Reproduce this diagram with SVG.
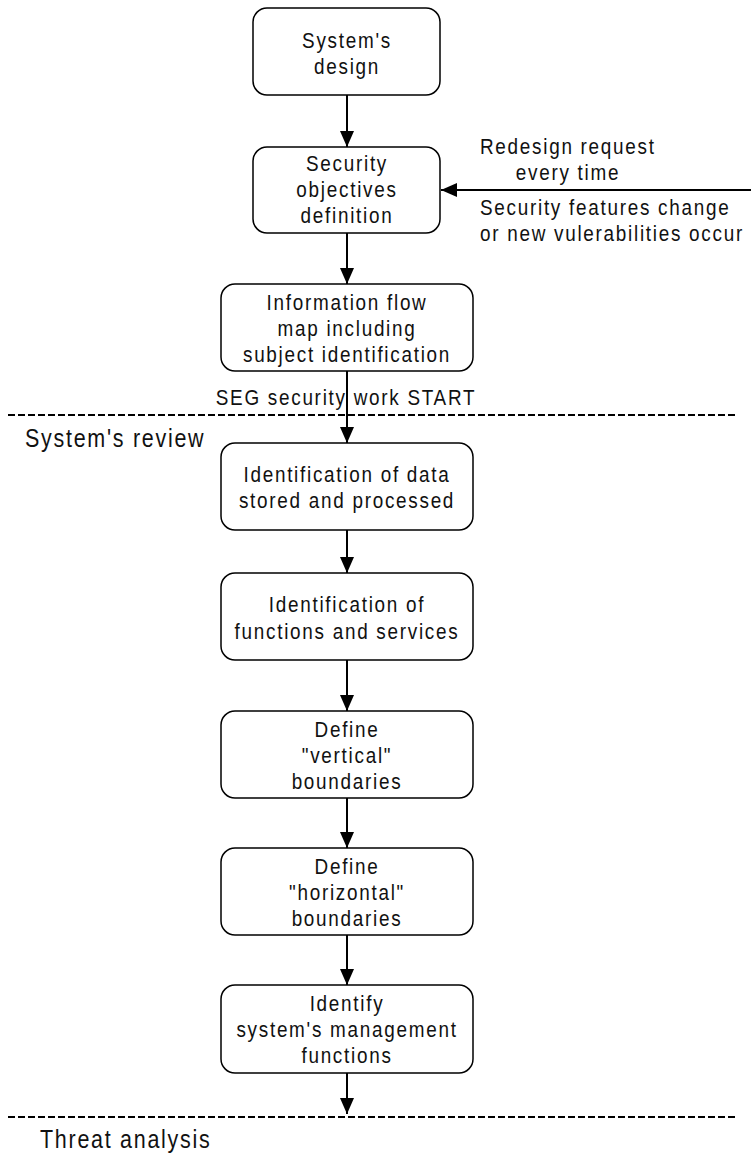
<svg xmlns="http://www.w3.org/2000/svg" width="751" height="1153" viewBox="0 0 751 1153">
<style>
.box{fill:#fff;stroke:#000;stroke-width:1.5}
.t{font-family:"Liberation Sans",Arial,sans-serif;font-size:22px;letter-spacing:2px;fill:#111}
.c{text-anchor:middle}
.big{font-family:"Liberation Sans",Arial,sans-serif;font-size:25px;letter-spacing:2px;fill:#111}
.ln{stroke:#000;stroke-width:2;fill:none}
.dash{stroke:#000;stroke-width:2;stroke-dasharray:7 3;fill:none}
</style>
<defs>
<marker id="ah" viewBox="0 0 16 14" refX="16" refY="7" markerWidth="16" markerHeight="14" markerUnits="userSpaceOnUse" orient="auto"><path d="M0,0 L16,7 L0,14 z" fill="#000"/></marker>
</defs>
<g id="separators">
<line class="dash" x1="8" y1="415" x2="738" y2="415"/>
<line class="dash" x1="8" y1="1117" x2="738" y2="1117"/>
<text class="big" transform="translate(25,447) scale(0.86,1)">System's review</text>
<text class="big" transform="translate(40,1148) scale(0.86,1)">Threat analysis</text>
<text class="t c" transform="translate(346,405) scale(0.86,1)" letter-spacing="2.6">SEG security work START</text>
</g>
<g id="connectors">
<line class="ln" x1="347" y1="95" x2="347" y2="147" marker-end="url(#ah)"/>
<line class="ln" x1="347" y1="233" x2="347" y2="284" marker-end="url(#ah)"/>
<line class="ln" x1="347" y1="371" x2="347" y2="443" marker-end="url(#ah)"/>
<line class="ln" x1="347" y1="530" x2="347" y2="573" marker-end="url(#ah)"/>
<line class="ln" x1="347" y1="660" x2="347" y2="711" marker-end="url(#ah)"/>
<line class="ln" x1="347" y1="798" x2="347" y2="848" marker-end="url(#ah)"/>
<line class="ln" x1="347" y1="935" x2="347" y2="985" marker-end="url(#ah)"/>
<line class="ln" x1="347" y1="1073" x2="347" y2="1114" marker-end="url(#ah)"/>
<line class="ln" x1="751" y1="190" x2="441" y2="190" marker-end="url(#ah)"/>
<text class="t" transform="translate(480,154) scale(0.86,1)">Redesign request</text>
<text class="t c" transform="translate(568,180) scale(0.86,1)">every time</text>
<text class="t" transform="translate(480,215) scale(0.86,1)">Security features change</text>
<text class="t" transform="translate(480,241) scale(0.86,1)">or new vulerabilities occur</text>
</g>
<g id="n1">
<rect class="box" x="253" y="8" width="187" height="87" rx="14"/>
<text class="t c" transform="translate(347,48) scale(0.86,1)">System's</text>
<text class="t c" transform="translate(347,74) scale(0.86,1)">design</text>
</g>
<g id="n2">
<rect class="box" x="253" y="147" width="187" height="86" rx="14"/>
<text class="t c" transform="translate(347,171) scale(0.86,1)">Security</text>
<text class="t c" transform="translate(347,197) scale(0.86,1)">objectives</text>
<text class="t c" transform="translate(347,223) scale(0.86,1)">definition</text>
</g>
<g id="n3">
<rect class="box" x="221" y="284" width="252" height="87" rx="14"/>
<text class="t c" transform="translate(347,310) scale(0.86,1)">Information flow</text>
<text class="t c" transform="translate(347,336) scale(0.86,1)">map including</text>
<text class="t c" transform="translate(347,362) scale(0.86,1)">subject identification</text>
</g>
<g id="n4">
<rect class="box" x="221" y="443" width="252" height="87" rx="14"/>
<text class="t c" transform="translate(347,482) scale(0.86,1)">Identification of data</text>
<text class="t c" transform="translate(347,508) scale(0.86,1)">stored and processed</text>
</g>
<g id="n5">
<rect class="box" x="221" y="573" width="252" height="87" rx="14"/>
<text class="t c" transform="translate(347,612) scale(0.86,1)">Identification of</text>
<text class="t c" transform="translate(347,639) scale(0.86,1)">functions and services</text>
</g>
<g id="n6">
<rect class="box" x="221" y="711" width="252" height="87" rx="14"/>
<text class="t c" transform="translate(347,737) scale(0.86,1)">Define</text>
<text class="t c" transform="translate(347,763) scale(0.86,1)">"vertical"</text>
<text class="t c" transform="translate(347,789) scale(0.86,1)">boundaries</text>
</g>
<g id="n7">
<rect class="box" x="221" y="848" width="252" height="87" rx="14"/>
<text class="t c" transform="translate(347,874) scale(0.86,1)">Define</text>
<text class="t c" transform="translate(347,900) scale(0.86,1)">"horizontal"</text>
<text class="t c" transform="translate(347,926) scale(0.86,1)">boundaries</text>
</g>
<g id="n8">
<rect class="box" x="221" y="985" width="252" height="88" rx="14"/>
<text class="t c" transform="translate(347,1011) scale(0.86,1)">Identify</text>
<text class="t c" transform="translate(347,1037) scale(0.86,1)">system's management</text>
<text class="t c" transform="translate(347,1063) scale(0.86,1)">functions</text>
</g>
</svg>
